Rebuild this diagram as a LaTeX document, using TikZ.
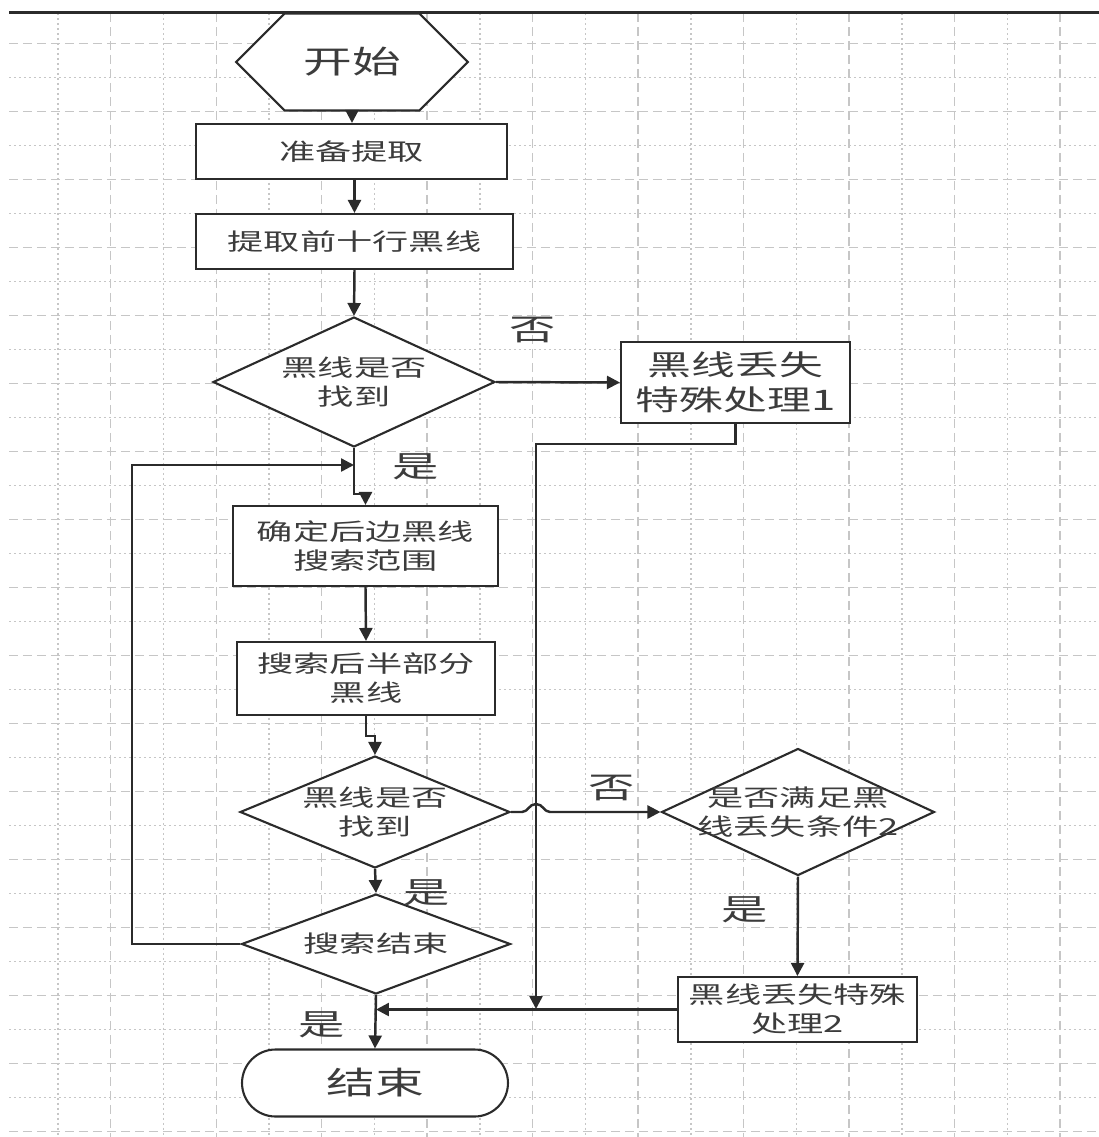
\documentclass[tikz,border=0pt]{standalone}
\usepackage{fontspec}
\newfontfamily\cjk[FakeStretch=1.55]{Noto Sans CJK SC}
\usepackage{tikz}
\usetikzlibrary{arrows.meta,positioning,shapes.geometric,shapes.misc,calc}
\usepackage{xcolor}
\definecolor{gridgray}{HTML}{C6C6C6}
\definecolor{dark}{HTML}{2B2B2B}
\definecolor{ink}{HTML}{3C3C3C}
\tikzset{
  txt/.style={font=\cjk\fontsize{13.3}{16.5}\selectfont, text=ink, align=center, inner sep=0pt},
  box/.style={txt, draw=dark, line width=1.2pt, fill=white},
  procbox/.style={box},
  bigbox/.style={box, font=\cjk\fontsize{16.1}{19.8}\selectfont},
  decision/.style={draw=dark, line width=1.2pt, fill=white, diamond, inner sep=0pt},
  startbox/.style={box, chamfered rectangle, chamfered rectangle xsep=1.08cm, chamfered rectangle ysep=0.68cm, font=\cjk\fontsize{17.9}{20}\selectfont},
  endbox/.style={box, rounded rectangle, font=\cjk\fontsize{17.9}{20}\selectfont},
  yesno/.style={txt, font=\cjk\fontsize{17}{20}\selectfont},
  arrow/.style={-{Triangle[length=0.26cm, width=0.26cm]}, line width=1.4pt, draw=dark},
  majorgrid/.style={gridgray, line width=0.8pt, dash pattern=on 0.18cm off 0.1cm},
  minorgrid/.style={gridgray, line width=0.8pt, dash pattern=on 0.04cm off 0.06cm}
}

\begin{document}
\begin{tikzpicture}[x=0.02cm, y=-0.02cm]
  \useasboundingbox (0,0) rectangle (1099,1137);
  \foreach \k in {0,2,...,32}
    \draw[majorgrid] (9,{43.3+34*\k}) -- (1099,{43.3+34*\k});
  \foreach \k in {1,3,...,31}
    \draw[minorgrid] (9,{43.3+34*\k}) -- (1099,{43.3+34*\k});
  \foreach \k in {2,4,...,20}
    \draw[majorgrid] ({5.26+52.74*\k},13) -- ({5.26+52.74*\k},1137);
  \foreach \k in {1,3,...,19}
    \draw[minorgrid] ({5.26+52.74*\k},13) -- ({5.26+52.74*\k},1137);
  \draw[dark, line width=1.6pt] (9,12.5) -- (1099,12.5);

  \node[startbox, minimum width=4.64cm, minimum height=1.36cm] (start) at (352,62) {开始};
  \node[procbox, minimum width=6.22cm, minimum height=1.1cm] (prep) at (351.5,151.5) {准备提取};
  \node[procbox, minimum width=6.34cm, minimum height=1.1cm] (ten) at (354.5,241.5) {提取前十行黑线};
  \node[decision, minimum width=5.64cm, minimum height=2.6cm, label={[txt]center:{黑线是否\\找到}}] (found1) at (354,382) {};
  \node[bigbox, minimum width=4.58cm, minimum height=1.62cm] (lost1) at (735.5,382.5) {黑线丢失\\特殊处理1};
  \node[procbox, minimum width=5.3cm, minimum height=1.6cm] (range) at (365.5,546) {确定后边黑线\\搜索范围};
  \node[procbox, minimum width=5.16cm, minimum height=1.46cm] (half) at (366,678.5) {搜索后半部分\\黑线};
  \node[decision, minimum width=5.4cm, minimum height=2.24cm, label={[txt]center:{黑线是否\\找到}}] (found2) at (375,812) {};
  \node[decision, minimum width=5.38cm, minimum height=2cm, label={[txt]center:{搜索结束}}] (done) at (376,944) {};
  \node[endbox, minimum width=5.32cm, minimum height=1.34cm] (stop) at (375,1083) {结束};
  \node[decision, minimum width=5.46cm, minimum height=2.54cm, label={[txt]center:{是否满足黑\\线丢失条件2}}] (cond2) at (798,812) {};
  \node[procbox, minimum width=4.78cm, minimum height=1.3cm] (lost2) at (797.5,1009.5) {黑线丢失特殊\\处理2};

  \node[yesno] (no1) at (533,330) {否};
  \node[yesno] (yes1) at (416,467) {是};
  \node[yesno] (no2) at (612,788) {否};
  \node[yesno] (yes2) at (427,893) {是};
  \node[yesno] (yes3) at (745,910) {是};
  \node[yesno] (yes4) at (322,1025) {是};

  \coordinate (jn) at (536,1009);
  \coordinate (hop) at (536,812);
  \coordinate (loop) at (132,465);
  \coordinate (back) at (354,465);

  \draw[arrow] (start.south) -- (start.south |- prep.north);
  \draw[arrow] (ten.north |- prep.south) -- (ten.north);
  \draw[arrow] (ten.south) -- (found1.north);
  \draw[arrow] (found1.east) -- (lost1.west);
  \draw[arrow] (found1.south) -- ++(0,46) -| (range.north);
  \draw[arrow] (lost1.south) -- ++(0,20) -| (jn);
  \draw[arrow] (range.south) -- (half.north);
  \draw[arrow] (half.south) -- ++(0,20) -| (found2.north);
  \draw[arrow] (found2.south) -- (done.north);
  \draw[arrow] (done.west) -| (loop) -- (back);
  \draw[arrow] (done.south) -- (stop.north);
  \draw[arrow] (found2.east) -- ($(hop)+(-14,0)$)
    .. controls ($(hop)+(-8,0)$) and ($(hop)+(-7,-8)$) .. ($(hop)+(0,-8)$)
    .. controls ($(hop)+(7,-8)$) and ($(hop)+(8,0)$) .. ($(hop)+(14,0)$) -- (cond2.west);
  \draw[arrow] (cond2.south) -- (lost2.north);
  \draw[arrow] (lost2.west) -- (lost2.west -| done.south);
\end{tikzpicture}
\end{document}
